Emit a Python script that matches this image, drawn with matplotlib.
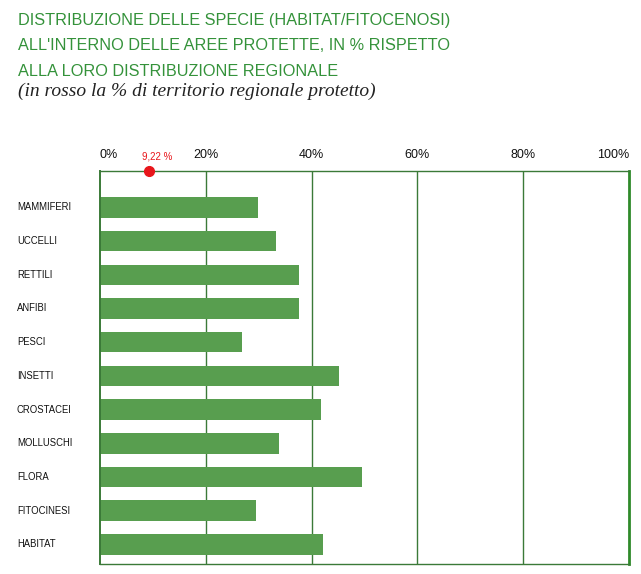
"""Distribuzione delle specie nelle aree protette, barre orizzontali."""

import matplotlib

matplotlib.use("Agg")
import matplotlib.pyplot as plt


CATEGORIES = [
    "MAMMIFERI",
    "UCCELLI",
    "RETTILI",
    "ANFIBI",
    "PESCI",
    "INSETTI",
    "CROSTACEI",
    "MOLLUSCHI",
    "FLORA",
    "FITOCINESI",
    "HABITAT",
]
PERCENT_IN_PROTECTED = [29.9, 33.3, 37.6, 37.6, 26.8, 45.2, 41.8, 33.8, 49.5, 29.5, 42.2]
PROTECTED_TERRITORY = 9.22
X_TICKS = [0, 20, 40, 60, 80, 100]
X_TICK_LABELS = ["0%", "20%", "40%", "60%", "80%", "100%"]

TITLE_LINES = [
    "DISTRIBUZIONE DELLE SPECIE (HABITAT/FITOCENOSI)",
    "ALL'INTERNO DELLE AREE PROTETTE, IN % RISPETTO",
    "ALLA LORO DISTRIBUZIONE REGIONALE",
]
SUBTITLE = "(in rosso la % di territorio regionale protetto)"

BAR_COLOR = "#589e4f"
LINE_COLOR = "#3b7a38"
TITLE_COLOR = "#34923a"
SANS = ["Liberation Sans", "DejaVu Sans"]
SERIF = ["Liberation Serif", "DejaVu Serif"]


def fit_width(figure, text, target_px):
    """Rescale a text so its rendered width matches target_px."""
    renderer = figure.canvas.get_renderer()
    width = text.get_window_extent(renderer).width
    text.set_fontsize(text.get_fontsize() * target_px / width)


figure = plt.figure(figsize=(6.41, 5.74), dpi=100)
axis = figure.add_axes([0.156, 0.0169, 0.8253, 0.6852])

positions = list(range(len(CATEGORIES)))
axis.barh(positions, PERCENT_IN_PROTECTED, height=0.61, color=BAR_COLOR, zorder=2)

axis.set_xlim(0, 100)
axis.set_ylim(10.59, -1.08)
axis.set_yticks([])
axis.set_xticks(X_TICKS)
axis.set_xticklabels(X_TICK_LABELS, fontsize=9, family=SANS)
axis.xaxis.tick_top()
axis.tick_params(axis="x", length=0, pad=7, colors="#111111")
tick_labels = axis.get_xticklabels()
tick_labels[0].set_horizontalalignment("left")
tick_labels[-1].set_horizontalalignment("right")

for value in X_TICKS[1:-1]:
    axis.axvline(value, color=LINE_COLOR, linewidth=1.0, zorder=1)
for side in ("top", "bottom", "left"):
    axis.spines[side].set_color(LINE_COLOR)
    axis.spines[side].set_linewidth(1.0)
axis.spines["left"].set_linewidth(1.4)
axis.spines["right"].set_color("#2f8a2a")
axis.spines["right"].set_linewidth(2.0)

label_x = (17 - 100) / 529 * 100
for position, name in zip(positions, CATEGORIES):
    label = axis.text(
        label_x,
        position,
        name,
        ha="left",
        va="center",
        fontsize=8,
        family=SANS,
        color="#111111",
        clip_on=False,
    )
    if name == "MAMMIFERI":
        fit_width(figure, label, 54)
        label_size = label.get_fontsize()
for text in axis.texts:
    text.set_fontsize(label_size)

axis.plot(
    [PROTECTED_TERRITORY],
    [-1.08],
    marker="o",
    markersize=7,
    color="#e8161b",
    clip_on=False,
    zorder=5,
)
axis.annotate(
    f"{PROTECTED_TERRITORY:.2f} %".replace(".", ","),
    xy=(PROTECTED_TERRITORY, -1.08),
    xytext=(6, 7),
    textcoords="offset points",
    ha="center",
    va="bottom",
    fontsize=7,
    color="#e8161b",
    family=SANS,
    annotation_clip=False,
)

title_texts = []
for index, line in enumerate(TITLE_LINES):
    title_texts.append(
        figure.text(
            18.5 / 641,
            1 - (24.5 + 26 * index) / 574,
            line,
            ha="left",
            va="baseline",
            fontsize=12,
            family=SANS,
            color=TITLE_COLOR,
        )
    )
fit_width(figure, title_texts[0], 431)
for text in title_texts[1:]:
    text.set_fontsize(title_texts[0].get_fontsize())

figure.text(
    18.5 / 641,
    1 - 96 / 574,
    SUBTITLE,
    ha="left",
    va="baseline",
    fontsize=14,
    style="italic",
    family=SERIF,
    color="#222222",
)

figure.savefig("out.png", dpi=100)
plt.close(figure)
